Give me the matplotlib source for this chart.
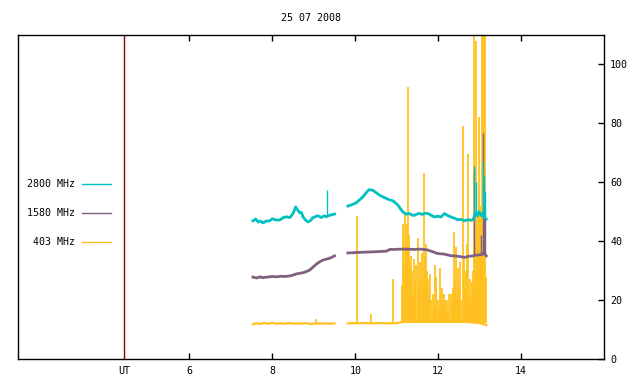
import matplotlib
matplotlib.use("Agg")
import matplotlib.pyplot as plt
from matplotlib.lines import Line2D

# colours (gnuplot-ish)
c_2800 = "#00c0c0"
c_1580 = "#806080"
c_403 = "#ffc020"
c_ut = "#8b0000"

title = "25 07 2008"
ut_hour = 4.42
xticks = [6, 8, 10, 12, 14]
yticks = [0, 20, 40, 60, 80, 100]

# 2800 MHz
t2800_a = [7.53, 7.60, 7.66, 7.72, 7.77, 7.85, 7.93, 8.00, 8.08, 8.18, 8.26, 8.34,
           8.42, 8.50, 8.56, 8.60, 8.66, 8.70, 8.74, 8.80, 8.86, 8.92, 8.97, 9.02,
           9.08, 9.14, 9.18, 9.24, 9.30, 9.38, 9.44, 9.50]
v2800_a = [46.9, 47.5, 46.5, 46.8, 46.2, 46.8, 46.9, 47.6, 47.2, 47.2, 48.0, 48.3,
           48.0, 49.4, 51.6, 50.8, 49.6, 49.8, 48.2, 47.2, 46.5, 47.0, 47.9, 48.2,
           48.6, 48.4, 48.0, 48.6, 48.3, 48.8, 49.0, 49.2]
t2800_b = [9.82, 9.90, 10.02, 10.10, 10.18, 10.26, 10.33, 10.42, 10.50, 10.59, 10.67,
           10.75, 10.83, 10.91, 10.97, 11.03, 11.10, 11.15, 11.23, 11.30, 11.38, 11.43,
           11.50, 11.55, 11.62, 11.70, 11.75, 11.83, 11.91, 11.99, 12.07, 12.15, 12.23,
           12.31, 12.39, 12.47, 12.55, 12.63, 12.71, 12.80, 12.85, 12.88, 12.91,
           12.95, 12.98, 13.03, 13.06, 13.09, 13.12, 13.16]
v2800_b = [51.9, 52.3, 53.0, 54.0, 55.0, 56.4, 57.5, 57.3, 56.5, 55.6, 55.0,
           54.5, 54.0, 53.7, 53.0, 52.2, 50.8, 49.9, 49.2, 49.4, 48.8, 48.8,
           49.3, 49.4, 49.1, 49.5, 49.4, 48.8, 48.2, 48.5, 48.2, 49.4, 48.7,
           48.2, 47.8, 47.3, 47.4, 46.9, 47.3, 47.1, 47.5, 49.0, 49.4,
           48.6, 50.0, 49.0, 48.5, 50.0, 48.0, 47.5]
t2800_spk = [9.31, 12.86, 12.92, 13.07, 13.10, 13.13]
b2800_spk = [48.5, 47.5, 49.0, 48.5, 49.0, 48.0]
v2800_spk = [57.5, 65.4, 60.0, 66.9, 62.0, 57.0]

# 1580 MHz
t1580_a = [7.53, 7.62, 7.70, 7.77, 7.85, 7.93, 8.02, 8.10, 8.20, 8.30, 8.42, 8.50,
           8.58, 8.66, 8.74, 8.82, 8.90, 8.98, 9.06, 9.14, 9.22, 9.30, 9.38, 9.44, 9.50]
v1580_a = [27.8, 27.5, 27.9, 27.6, 27.8, 27.9, 28.0, 27.9, 28.1, 28.0, 28.2, 28.5,
           28.9, 29.1, 29.3, 29.7, 30.2, 31.2, 32.2, 33.0, 33.6, 33.9, 34.2, 34.6, 35.0]
t1580_b = [9.82, 9.95, 10.10, 10.27, 10.45, 10.60, 10.75, 10.83, 10.95, 11.10, 11.23,
           11.43, 11.55, 11.67, 11.75, 11.83, 11.91, 11.99, 12.07, 12.15, 12.30, 12.47,
           12.63, 12.75, 12.85, 12.87, 12.95, 13.00, 13.06, 13.10, 13.13, 13.16]
v1580_b = [36.0, 36.1, 36.2, 36.3, 36.4, 36.5, 36.6, 37.2, 37.2, 37.3, 37.3,
           37.2, 37.3, 37.2, 37.0, 36.6, 36.2, 35.8, 35.7, 35.6, 35.1, 34.9,
           34.5, 34.9, 35.0, 35.2, 35.3, 35.4, 35.5, 36.0, 35.5, 35.0]
t1580_spk = [12.86, 13.04, 13.08, 13.11, 13.12]
b1580_spk = [35.0, 35.4, 35.5, 35.5, 35.5]
v1580_spk = [64.0, 42.0, 76.6, 48.8, 48.8]

# 403 MHz baseline
t403_a = [7.53, 7.60, 7.70, 7.80, 7.90, 8.00, 8.10, 8.20, 8.30, 8.40, 8.50, 8.60,
          8.70, 8.80, 8.90, 9.05, 9.20, 9.35, 9.50]
v403_a = [11.8, 12.1, 11.9, 12.2, 12.0, 12.3, 12.0, 12.1, 12.0, 12.2, 12.0, 12.1,
          12.0, 12.2, 11.9, 12.0, 12.1, 12.0, 12.1]
t403_b = [9.82, 9.95, 10.05, 10.20, 10.40, 10.60, 10.80, 10.92, 11.05, 11.10, 11.50,
          12.00, 12.50, 13.00, 13.16]
v403_b = [12.1, 12.2, 12.1, 12.2, 12.1, 12.2, 12.1, 12.1, 12.3, 12.5, 12.8,
          12.6, 12.8, 12.2, 11.5]

# 403 MHz isolated spikes and burst tops
t403_spk = [9.04, 10.04, 10.39, 10.91,
            11.124, 11.148, 11.172, 11.196, 11.220, 11.244, 11.268, 11.292, 11.316,
            11.349, 11.373, 11.397, 11.421, 11.445, 11.469, 11.501, 11.525, 11.549,
            11.573, 11.606, 11.630, 11.654, 11.678, 11.702, 11.726, 11.758, 11.782,
            11.806, 11.831, 11.863, 11.887, 11.911, 11.935, 11.959, 11.991, 12.015,
            12.039, 12.063, 12.088, 12.120, 12.144, 12.176, 12.200, 12.224, 12.248,
            12.272, 12.297, 12.321, 12.345, 12.369, 12.393, 12.417, 12.441, 12.465,
            12.489, 12.513, 12.538, 12.562, 12.594, 12.618, 12.642, 12.666, 12.690,
            12.714, 12.738, 12.762, 12.787, 12.811, 12.835, 12.860, 12.883, 12.910,
            12.930, 12.950, 12.980, 12.995, 13.019, 13.044, 13.068, 13.084, 13.100,
            13.116, 13.132, 13.156]
v403_spk = [13.5, 48.5, 15.3, 27.1,
            25, 46, 32, 49.5, 38, 46, 92.5, 42, 31,
            35, 30, 22, 34, 26, 32, 41, 24, 33,
            28, 36, 26, 63, 35, 39, 30, 27, 22,
            29, 20, 22, 18, 32, 24, 28, 20, 17,
            31, 22, 24, 19, 22, 20, 18, 20, 16,
            22, 22, 20, 18, 24, 43, 26, 38, 22,
            31, 25, 33, 20, 79, 34, 24, 30, 39,
            69.5, 22, 27, 20, 26, 30, 110, 40, 108,
            50, 45, 82, 55, 52, 48, 110, 110, 110,
            110, 110, 28]

fig = plt.figure(figsize=(6.4, 3.84), dpi=100)
ax = fig.add_axes([18.3 / 640, 1 - 359 / 384, (604 - 18.3) / 640, (359 - 35) / 384])

ax.axvline(ut_hour, color=c_ut, lw=1.0)

ax.vlines(t403_spk, 12.2, v403_spk, color=c_403, lw=1.3)
ax.plot(t403_a, v403_a, color=c_403, lw=1.6)
ax.plot(t403_b, v403_b, color=c_403, lw=1.6)
ax.vlines(t1580_spk, b1580_spk, v1580_spk, color=c_1580, lw=1.0)
ax.plot(t1580_a, v1580_a, color=c_1580, lw=2.0)
ax.plot(t1580_b, v1580_b, color=c_1580, lw=2.0)
ax.vlines(t2800_spk, b2800_spk, v2800_spk, color=c_2800, lw=1.0)
ax.plot(t2800_a, v2800_a, color=c_2800, lw=2.0)
ax.plot(t2800_b, v2800_b, color=c_2800, lw=2.0)

ax.set_xlim(1.87, 16.0)
ax.set_ylim(0, 110)

font = dict(family="DejaVu Sans Mono", size=7.2)
ax.set_xticks([ut_hour] + xticks)
ax.set_xticklabels(["UT"] + [str(x) for x in xticks], **font)
ax.tick_params(axis="x", direction="in", length=4, width=1, top=True, pad=5)
ax.xaxis.get_major_ticks()[0].tick1line.set_visible(False)
ax.xaxis.get_major_ticks()[0].tick2line.set_visible(False)

ax.yaxis.tick_right()
ax.set_yticks(yticks)
ax.set_yticklabels([str(y) for y in yticks], **font)
ax.tick_params(axis="y", direction="in", length=4, width=1, pad=4.5)

for s in ax.spines.values():
    s.set_linewidth(1.0)

fig.text(311 / 640, 1 - 18 / 384, title, ha="center", va="center", **font)

# key on the left
legend_rows = [("2800 MHz", c_2800, 184.3), ("1580 MHz", c_1580, 213.3), ("403 MHz", c_403, 242.3)]
for label, col, ypx in legend_rows:
    yf = 1 - ypx / 384
    fig.text(75 / 640, yf, label, ha="right", va="center", **font)
    fig.add_artist(Line2D([82 / 640, 111 / 640], [yf, yf], color=col, lw=1.0,
                          transform=fig.transFigure))

fig.savefig("out.png", dpi=100)
